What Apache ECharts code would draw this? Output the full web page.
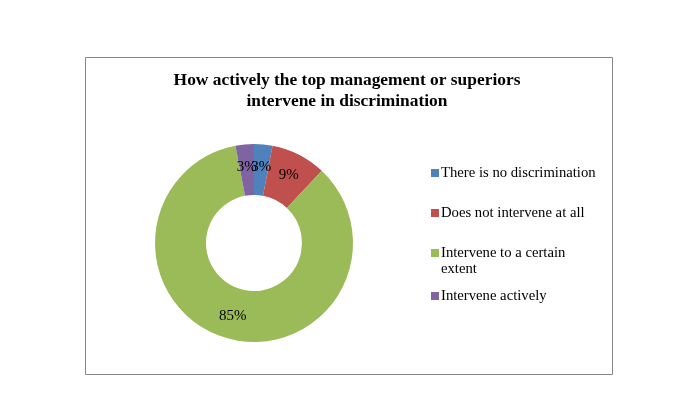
<!DOCTYPE html>
<html><head><meta charset="utf-8">
<script src="https://cdn.jsdelivr.net/npm/echarts@6/dist/echarts.min.js"></script>
<style>html,body{margin:0;padding:0;background:#fff}#c{width:700px;height:394px}</style>
</head><body><div id="c"></div>
<script>
const categories = ['There is no discrimination', 'Does not intervene at all', 'Intervene to a certain extent', 'Intervene actively'];
const values = [3, 9, 85, 3];
const colors = ['#4F81BD', '#C0504D', '#9BBB59', '#8064A2'];
const titleText = 'How actively the top management or superiors\nintervene in discrimination';

const chart = echarts.init(document.getElementById('c'), null, {renderer: 'canvas'});
const serif = '"Liberation Serif", "Times New Roman", serif';
const legendBase = {
  orient: 'vertical', left: 426,
  itemWidth: 8, itemHeight: 8, itemGap: 24, icon: 'rect',
  formatter: function (n) { return n === 'Intervene to a certain extent' ? 'Intervene to a certain' : n; },
  textStyle: {fontFamily: serif, fontSize: 14.7, color: '#000', lineHeight: 16, padding: [0, 0, 0, -3]}
};
chart.setOption({
  animation: false,
  color: colors,
  title: {
    text: titleText,
    left: 342, top: 65, textAlign: 'center',
    textStyle: {fontFamily: serif, fontSize: 17.4, fontWeight: 'bold', color: '#000', lineHeight: 21}
  },
  legend: [
    Object.assign({}, legendBase, {top: 160, data: categories.slice(0, 3)}),
    Object.assign({}, legendBase, {top: 283, data: categories.slice(3)})
  ],
  graphic: [
    {type: 'rect', shape: {x: 85.5, y: 57.5, width: 527, height: 317}, style: {fill: 'none', stroke: '#868686', lineWidth: 1}, silent: true, z: -1},
    {type: 'text', left: 441, top: 262, style: {text: 'extent', font: '14.7px ' + serif, fill: '#000'}}
  ],
  series: [{
    type: 'pie',
    center: [254, 243],
    radius: [48, 99],
    startAngle: 90,
    clockwise: true,
    avoidLabelOverlap: false,
    labelLayout: {hideOverlap: false},
    data: categories.map((c, i) => ({name: c, value: values[i]})),
    label: {
      show: true, position: 'inside',
      formatter: '{c}%',
      fontFamily: serif, fontSize: 15, color: '#000'
    },
    labelLine: {show: false},
    itemStyle: {borderWidth: 0}
  }]
});
</script></body></html>
